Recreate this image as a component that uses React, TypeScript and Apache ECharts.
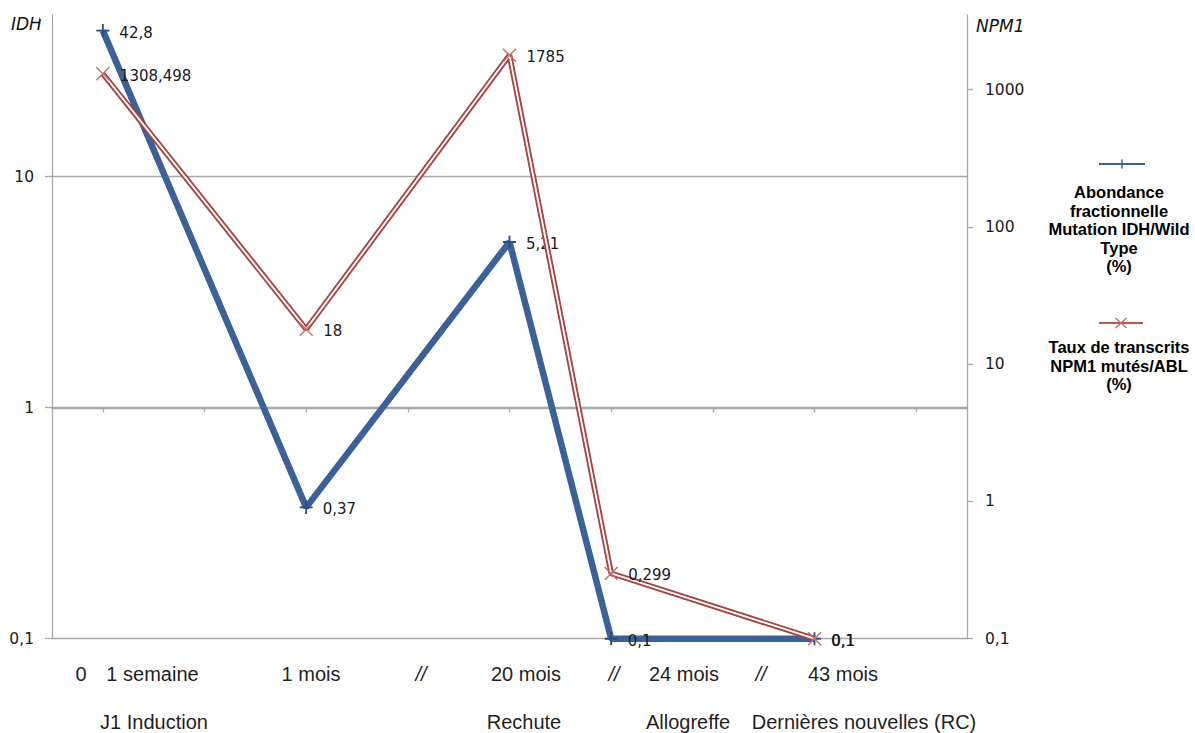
import React, { useEffect, useRef } from 'react';
import * as echarts from 'echarts';

// ---- data ----
const categories = ['1 semaine', 'gap-a', '1 mois', 'gap-b', '20 mois', '24 mois', 'gap-c', '43 mois', 'gap-d'];
const idhValues = [42.8, null, 0.37, null, 5.21, 0.1, null, 0.1, null];
const npm1Values = [1308.498, null, 18, null, 1785, 0.299, null, 0.1, null];
const idhTicks = [0.1, 1, 10];
const npm1Ticks = [0.1, 1, 10, 100, 1000];
const timeLabels = ['0', '1 semaine', '1 mois', '//', '20 mois', '//', '24 mois', '//', '43 mois'];
const phaseLabels = ['J1 Induction', 'Rechute', 'Allogreffe', 'Dernières nouvelles (RC)'];
const legendIdh = ['Abondance', 'fractionnelle', 'Mutation IDH/Wild', 'Type', '(%)'];
const legendNpm1 = ['Taux de transcrits', 'NPM1 mutés/ABL', '(%)'];
const idhAxisTitle = 'IDH';
const npm1AxisTitle = 'NPM1';

// ---- layout (pixels) ----
const timeX = [81, 152.5, 311, 421, 526, 614, 684, 761, 843];
const phaseX = [154, 524, 688, 864];

const fmt = (v: number) => String(v).replace('.', ',');
const isTick = (list: number[], v: number) => list.some((t) => Math.abs(t - v) / t < 1e-6);

const BLUE = '#3B6198';
const RED = '#A94341';
const GRID = '#A8A8A8';
const NUM_FONT = '"DejaVu Sans", Verdana, sans-serif';
const TXT_FONT = '"Liberation Sans", Arial, sans-serif';

const plusPath = 'path://M6,0 H8 V6 H14 V8 H8 V14 H6 V8 H0 V6 H6 Z';
const crossPath = 'path://M0,1 L1,0 L7,6 L13,0 L14,1 L8,7 L14,13 L13,14 L7,8 L1,14 L0,13 L6,7 Z';

export default function App() {
  const ref = useRef<HTMLDivElement>(null);

  useEffect(() => {
    if (!ref.current) return;
    const chart = echarts.init(ref.current, undefined, { renderer: 'svg' });

    const graphics: any[] = [];
    graphics.push({
      type: 'text', left: 11, top: 15,
      style: { text: idhAxisTitle, font: `italic 17px ${NUM_FONT}`, fill: '#111' },
    });
    graphics.push({
      type: 'text', left: 976, top: 17,
      style: { text: npm1AxisTitle, font: `italic 17px ${NUM_FONT}`, fill: '#111' },
    });
    timeLabels.forEach((t, i) => {
      graphics.push({
        type: 'text', x: timeX[i], y: 674,
        style: {
          text: t, font: `${t === '//' ? 'italic ' : ''}20px ${TXT_FONT}`, fill: '#1f1f1f',
          textAlign: 'center', textVerticalAlign: 'middle', align: 'center', verticalAlign: 'middle',
        },
      });
    });
    phaseLabels.forEach((t, i) => {
      graphics.push({
        type: 'text', x: phaseX[i], y: 722,
        style: {
          text: t, font: `20px ${TXT_FONT}`, fill: '#1f1f1f',
          textAlign: 'center', textVerticalAlign: 'middle', align: 'center', verticalAlign: 'middle',
        },
      });
    });
    // legend
    graphics.push({ type: 'line', shape: { x1: 1099, y1: 164, x2: 1145, y2: 164 }, style: { stroke: BLUE, lineWidth: 2.2 } });
    graphics.push({ type: 'line', shape: { x1: 1122, y1: 159.5, x2: 1122, y2: 168.5 }, style: { stroke: BLUE, lineWidth: 1.5 } });
    graphics.push({
      type: 'text', x: 1119, y: 183,
      style: {
        text: legendIdh.join('\n'), font: `bold 16.5px ${TXT_FONT}`, fill: '#000', lineHeight: 18.5,
        textAlign: 'center', textVerticalAlign: 'top', align: 'center', verticalAlign: 'top',
      },
    });
    graphics.push({ type: 'line', shape: { x1: 1099, y1: 323, x2: 1143, y2: 323 }, style: { stroke: '#B65856', lineWidth: 2.2 } });
    graphics.push({ type: 'line', shape: { x1: 1115.5, y1: 318, x2: 1126.5, y2: 328 }, style: { stroke: '#C06A68', lineWidth: 1.3 } });
    graphics.push({ type: 'line', shape: { x1: 1115.5, y1: 328, x2: 1126.5, y2: 318 }, style: { stroke: '#C06A68', lineWidth: 1.3 } });
    graphics.push({
      type: 'text', x: 1119, y: 338,
      style: {
        text: legendNpm1.join('\n'), font: `bold 16.5px ${TXT_FONT}`, fill: '#000', lineHeight: 18.5,
        textAlign: 'center', textVerticalAlign: 'top', align: 'center', verticalAlign: 'top',
      },
    });
    // mask the end-of-axis ticks at the top
    graphics.push({ type: 'rect', shape: { x: 40, y: 10, width: 11.3, height: 9 }, style: { fill: '#fff' }, z: 100 });
    graphics.push({ type: 'rect', shape: { x: 968.3, y: 10, width: 10, height: 9 }, style: { fill: '#fff' }, z: 100 });

    const labelStyle = {
      show: true, position: 'right' as const, distance: 10, offset: [0, 2],
      fontFamily: NUM_FONT, fontSize: 15, color: '#1a1a1a',
      formatter: (p: any) => fmt(p.value),
    };

    chart.setOption({
      animation: false,
      backgroundColor: '#fff',
      grid: { left: 52, right: 228, top: 15, bottom: 94.3, containLabel: false },
      xAxis: {
        type: 'category', data: categories, boundaryGap: true, position: 'bottom', offset: -230.4,
        axisLine: { show: true, onZero: false, lineStyle: { color: GRID, width: 1.3 } },
        axisTick: { show: true, alignWithLabel: true, interval: 0, length: 4, lineStyle: { color: GRID, width: 1.3 } },
        axisLabel: { show: false },
        splitLine: { show: false },
      },
      yAxis: [
        {
          type: 'log', logBase: 10, min: 0.1, max: 50, position: 'left',
          axisLine: { show: true, lineStyle: { color: GRID, width: 1.3 } },
          axisTick: { show: true, length: 7, lineStyle: { color: GRID, width: 1.3 } },
          axisLabel: {
            margin: 18, fontFamily: NUM_FONT, fontSize: 15.5, color: '#1a1a1a', showMaxLabel: false,
            formatter: (v: number) => (isTick(idhTicks, v) ? fmt(v) : ''),
          },
          splitLine: { show: true, showMinLine: true, showMaxLine: false, lineStyle: { color: GRID, width: 1.3 } },
        },
        {
          type: 'log', logBase: 10, min: 0.1, max: 3500, position: 'right',
          axisLine: { show: true, lineStyle: { color: GRID, width: 1.3 } },
          axisTick: { show: true, length: 6, lineStyle: { color: GRID, width: 1.3 } },
          axisLabel: {
            margin: 18, fontFamily: NUM_FONT, fontSize: 15.5, color: '#1a1a1a', showMaxLabel: false,
            formatter: (v: number) => (isTick(npm1Ticks, v) ? fmt(v) : ''),
          },
          splitLine: { show: false },
        },
      ],
      series: [
        {
          name: 'Abondance fractionnelle Mutation IDH/Wild Type (%)',
          type: 'line', yAxisIndex: 0, data: idhValues, connectNulls: true,
          lineStyle: { color: BLUE, width: 6.5 },
          symbol: plusPath, symbolSize: 13, showAllSymbol: true,
          itemStyle: { color: '#2D4E7E' },
          label: labelStyle, z: 2,
        },
        {
          name: 'Taux de transcrits NPM1 mutés/ABL (%)',
          type: 'line', yAxisIndex: 1, data: npm1Values, connectNulls: true,
          lineStyle: { color: RED, width: 5.6 },
          symbol: 'none',
          z: 3,
        },
        {
          name: 'npm1-inner',
          type: 'line', yAxisIndex: 1, data: npm1Values, connectNulls: true,
          lineStyle: { color: '#ffffff', width: 1.9 },
          symbol: crossPath, symbolSize: 14, showAllSymbol: true,
          itemStyle: { color: '#C26E6C' },
          label: labelStyle, z: 4, silent: true,
        },
      ],
      graphic: graphics,
    });

    return () => chart.dispose();
  }, []);

  return (
    <div
      ref={ref}
      style={{ position: 'absolute', left: 0, top: 0, width: 1195, height: 733, background: '#fff' }}
    />
  );
}
